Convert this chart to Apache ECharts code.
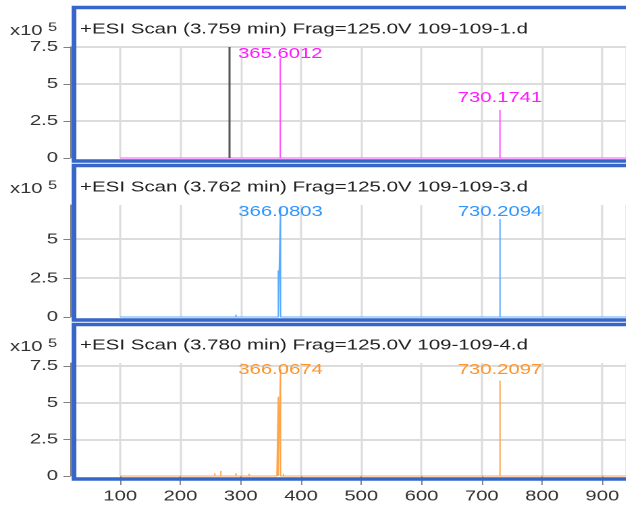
<!DOCTYPE html>
<html>
<head>
<meta charset="utf-8">
<script src="https://cdn.jsdelivr.net/npm/echarts@6/dist/echarts.min.js"></script>
<style>
  html, body { margin: 0; padding: 0; background: #fff; overflow: hidden; }
  /* the source picture is stretched sideways, so the chart is drawn narrow and widened */
  #chart { width: 463.7px; height: 508px; transform: scaleX(1.35); transform-origin: 0 0; }
</style>
</head>
<body>
<div id="chart"></div>
<script>
const SX = 1.35

// scan titles
const titles = [
  '+ESI Scan (3.759 min) Frag=125.0V 109-109-1.d',
  '+ESI Scan (3.762 min) Frag=125.0V 109-109-3.d',
  '+ESI Scan (3.780 min) Frag=125.0V 109-109-4.d'
]

// peaks, intensity in x10^5 counts
const mz1 = [100, 128, 257, 292, 314, 365.6012, 730.1741, 750]
const int1 = [0.08, 0.1, 0.12, 0.1, 0.05, 6.75, 3.25, 0.08]
const mz2 = [100, 113, 128, 228, 257, 267, 292, 314, 336, 362.3, 366.0803, 486, 730.2094, 750]
const int2 = [0.08, 0.06, 0.06, 0.05, 0.08, 0.12, 0.15, 0.08, 0.06, 3.0, 7.1, 0.05, 6.3, 0.06]
const mz3 = [100, 113, 128, 228, 257, 267, 292, 314, 336, 360, 362.3, 366.0674, 371, 486, 730.2097, 737, 750]
const int3 = [0.08, 0.06, 0.06, 0.08, 0.2, 0.35, 0.2, 0.15, 0.08, 0.35, 5.4, 7.3, 0.15, 0.08, 6.5, 0.1, 0.08]

// labelled peaks
const labels1 = ['365.6012', '730.1741']
const labels2 = ['366.0803', '730.2094']
const labels3 = ['366.0674', '730.2097']

// cursor line in the first scan
const cursor1 = 280

const yMaxes = [7.5, 7.2, 7.7]
const yTicks = ['0', '2.5', '5', '7.5']
const xTicks = ['100', '200', '300', '400', '500', '600', '700', '800', '900']

const lineColors = ['#ff55ff', '#5aabff', '#ffa64d']
const labelColors = ['#ff1aff', '#2f96ff', '#ff9428']

const gridTops = [47, 205, 363]
const gridHeights = [111, 112, 113]
const boxes = [[7.5, 161], [165.5, 320], [324.5, 479]]
const W = 626 / SX
const font = 'Liberation Sans, Arial, sans-serif'

const peaks = [[mz1, int1, labels1], [mz2, int2, labels2], [mz3, int3, labels3]]

function stick(mz, inten) {
  const pts = [[100, 0]]
  mz.forEach((m, i) => { pts.push([m, 0], [m, inten[i]], [m, 0]) })
  pts.push([960, 0])
  return pts
}

const chart = echarts.init(document.getElementById('chart'), null, { devicePixelRatio: 2 })

const grid = [], xAxis = [], yAxis = [], series = [], title = [], graphic = []

peaks.forEach(([mz, inten, labs], i) => {
  const yMax = yMaxes[i]
  const pxPer = gridHeights[i] / yMax
  grid.push({ left: 52, right: -7, top: gridTops[i], height: gridHeights[i] })
  title.push({
    text: titles[i], left: 80 / SX, top: gridTops[i] - 25, padding: 0,
    textStyle: { fontFamily: font, fontSize: 15.2, fontWeight: 'normal', color: '#222' }
  })
  const last = i === 2
  xAxis.push({
    type: 'value', gridIndex: i, min: 17, max: 940, splitNumber: 9,
    minInterval: 100, maxInterval: 100,
    axisLine: { show: false },
    axisTick: { show: last, length: 9, lineStyle: { color: '#888' } },
    axisLabel: {
      show: last, margin: 13, fontFamily: font, fontSize: 15, color: '#333',
      showMinLabel: false, showMaxLabel: false,
      formatter: v => xTicks.includes(String(v)) ? String(v) : ''
    },
    splitLine: { show: true, showMinLine: false, lineStyle: { color: '#dcdcdc', width: 1.5 } }
  })
  yAxis.push({
    type: 'value', gridIndex: i, min: 0, max: yMax, interval: 2.5,
    axisLine: { show: true, lineStyle: { color: '#808080', width: 1 } },
    axisTick: { show: true, length: 5, lineStyle: { color: '#808080' } },
    axisLabel: {
      margin: 9, fontFamily: font, fontSize: 15, color: '#333',
      showMaxLabel: yMax % 2.5 === 0,
      formatter: v => yTicks.includes(String(v)) ? String(v) : ''
    },
    splitLine: {
      show: true, showMinLine: false, showMaxLine: yMax % 2.5 === 0,
      lineStyle: { color: '#dcdcdc', width: 2 }
    }
  })
  const s = {
    type: 'line', xAxisIndex: i, yAxisIndex: i,
    data: stick(mz, inten), showSymbol: false, symbol: 'none', clip: true,
    itemStyle: { color: lineColors[i] },
    lineStyle: { color: lineColors[i], width: 1 },
    markPoint: {
      symbol: 'circle', symbolSize: 1, itemStyle: { color: 'rgba(0,0,0,0)' },
      label: { show: true, position: 'inside', color: labelColors[i], fontFamily: font, fontSize: 15, formatter: p => p.name },
      data: labs.map(l => {
        const m = parseFloat(l)
        const h = inten[mz.indexOf(m)]
        return { name: l, coord: [m, Math.min(h + 12 / pxPer, yMax - 7 / pxPer)] }
      })
    }
  }
  if (i === 0) {
    s.markLine = {
      silent: true, symbol: 'none', label: { show: false },
      lineStyle: { color: '#555', width: 1.5, type: 'solid' },
      data: [{ xAxis: cursor1 }]
    }
  }
  series.push(s)

  // x10^5 unit mark
  graphic.push({
    type: 'text', x: 31.5, y: gridTops[i] - 16,
    style: { text: 'x10', fontFamily: font, fontSize: 15, fill: '#333', align: 'right', verticalAlign: 'middle' }
  })
  graphic.push({
    type: 'text', x: 35.6, y: gridTops[i] - 19.5,
    style: { text: '5', fontFamily: font, fontSize: 12, fill: '#333', align: 'left', verticalAlign: 'middle' }
  })
  // blue panel frame
  graphic.push({
    type: 'rect', z: 100,
    shape: { x: 74 / SX, y: boxes[i][0], width: W + 20, height: boxes[i][1] - boxes[i][0] },
    style: { fill: 'none', stroke: '#3566c8', lineWidth: 3.5 }
  })
})

chart.setOption({
  animation: false,
  backgroundColor: '#fff',
  color: lineColors,
  title, grid, xAxis, yAxis, series, graphic
})
</script>
</body>
</html>
